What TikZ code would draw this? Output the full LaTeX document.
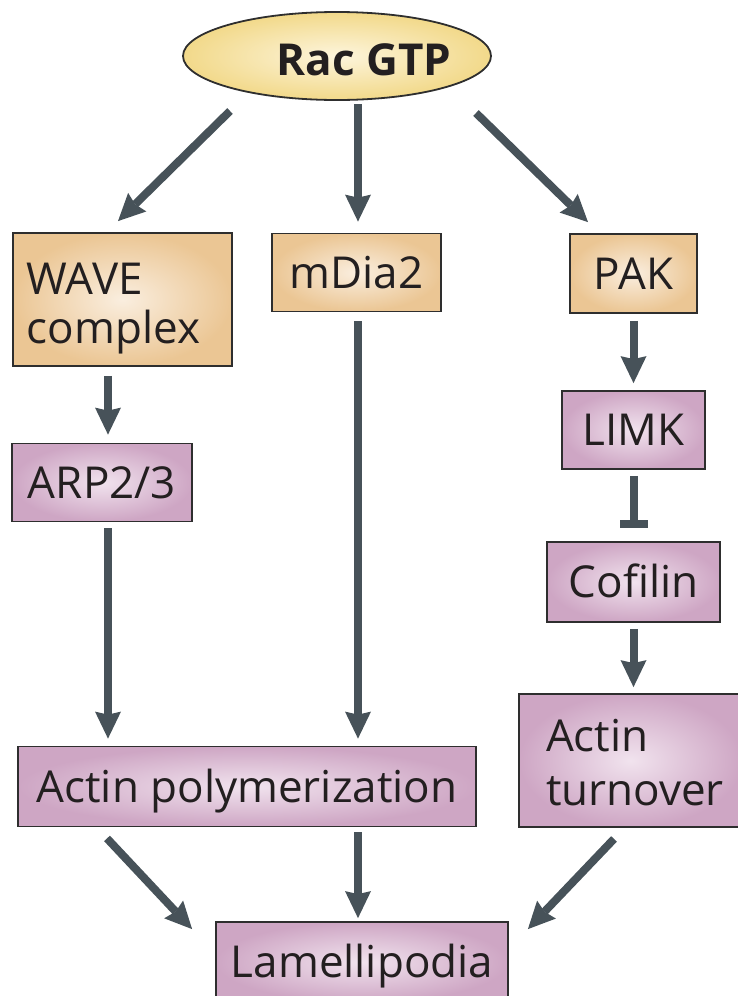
\documentclass[tikz,border=0pt]{standalone}
\usepackage{fontspec}
\setmainfont{Open Sans}
\usetikzlibrary{arrows.meta,calc,shapes.geometric}

\definecolor{tanedge}{HTML}{EBC694}
\definecolor{tancore}{HTML}{FAEEDF}
\definecolor{pinkedge}{HTML}{CEA6C4}
\definecolor{pinkcore}{HTML}{F1E3EE}
\definecolor{racedge}{HTML}{F2D98A}
\definecolor{raccore}{HTML}{FDF5DC}
\definecolor{arrowgrey}{HTML}{475259}
\definecolor{rim}{HTML}{2E2E2E}
\definecolor{ink}{HTML}{231F20}

\tikzset{
  box/.style={draw=rim, line width=1.8pt, inner sep=0pt, text=ink,
    font=\fontsize{44}{49}\selectfont, text height=31pt, text depth=0pt},
  tanbox/.style={box, inner color=tancore, outer color=tanedge},
  pinkbox/.style={box, inner color=pinkcore, outer color=pinkedge},
  act/.style={draw=arrowgrey, line width=8pt,
    -{Stealth[length=27pt,width=26pt,inset=3pt,line width=0pt]}},
  inh/.style={draw=arrowgrey, line width=8pt, -{Bar[width=28pt]}},
}

\begin{document}
\begin{tikzpicture}
\clip (0,0) rectangle (738pt,-996pt);

% activator
\node[ellipse, draw=rim, line width=1.8pt, inner color=raccore, outer color=racedge,
      minimum width=308pt, minimum height=88pt, inner sep=0pt] (rac) at (337pt,-56pt) {};
\node[text=ink, font=\fontsize{44}{48}\selectfont\bfseries, inner sep=0pt,
      text height=31pt, text depth=0pt] (ractext) at (364pt,-60pt) {Rac GTP};

% first tier
\node[tanbox, minimum width=219pt, minimum height=133pt, inner xsep=14pt,
      text width=191pt, align=left, text height=61pt, text depth=72pt]
      (wave) at (122.5pt,-299.5pt) {WAVE\\complex};
\node[tanbox, minimum width=169pt, minimum height=78pt] (mdia) at (356.5pt,-272.5pt) {mDia2};
\node[tanbox, minimum width=127pt, minimum height=79pt] (pak) at (633.5pt,-273.5pt) {PAK};

% downstream effectors
\node[pinkbox, minimum width=180pt, minimum height=78pt] (arp) at (102pt,-482.5pt) {ARP2/3};
\node[pinkbox, minimum width=143pt, minimum height=78pt] (limk) at (633.5pt,-430pt) {LIMK};
\node[pinkbox, minimum width=173pt, minimum height=80pt] (cofilin) at (633.5pt,-582pt) {Cofilin};
\node[pinkbox, minimum width=458pt, minimum height=80pt] (poly) at (247pt,-786.5pt) {Actin polymerization};
\node[pinkbox, minimum width=223pt, minimum height=133pt, inner xsep=27pt,
      text width=169pt, align=left, font=\fontsize{44}{54}\selectfont,
      text height=57pt, text depth=76pt]
      (turnover) at (630.5pt,-760.5pt) {Actin\\turnover};
\node[pinkbox, minimum width=292pt, minimum height=80pt] (lam) at (362pt,-962pt) {Lamellipodia};

% column guides for vertical connectors
\coordinate (colA) at (108pt,0);
\coordinate (colB) at (358pt,0);
\coordinate (colC) at (633.5pt,0);

% connectors
\draw[act] ($(rac.center)+(-107pt,-55pt)$) -- ($(wave.north)+(-4.5pt,11pt)$);
\draw[act] ($(rac.center)+(21pt,-48pt)$) -- ($(mdia.north)+(1.5pt,11pt)$);
\draw[act] ($(rac.center)+(139pt,-57pt)$) -- ($(pak.north)+(-45.5pt,11pt)$);

\draw[act, shorten <=9pt, shorten >=8pt] (wave.south -| colA) -- (arp.north -| colA);
\draw[act, shorten <=6pt, shorten >=7pt] (arp.south -| colA) -- (poly.north -| colA);
\draw[act, shorten <=9pt, shorten >=7pt] (mdia.south -| colB) -- (poly.north -| colB);
\draw[act, shorten <=7pt, shorten >=7pt] (pak.south -| colC) -- (limk.north -| colC);
\draw[inh, shorten <=6pt, shorten >=13pt] (limk.south -| colC) -- (cofilin.north -| colC);
\draw[act, shorten <=6pt, shorten >=6pt] (cofilin.south -| colC) -- (turnover.north -| colC);

\draw[act] ($(poly.south)+(-140pt,-11pt)$) -- ($(lam.north west)+(-23pt,-8pt)$);
\draw[act, shorten <=5pt, shorten >=3pt] (poly.south -| colB) -- (lam.north -| colB);
\draw[act] ($(turnover.south)+(-16.5pt,-11pt)$) -- ($(lam.north east)+(19pt,-8pt)$);
\end{tikzpicture}
\end{document}
